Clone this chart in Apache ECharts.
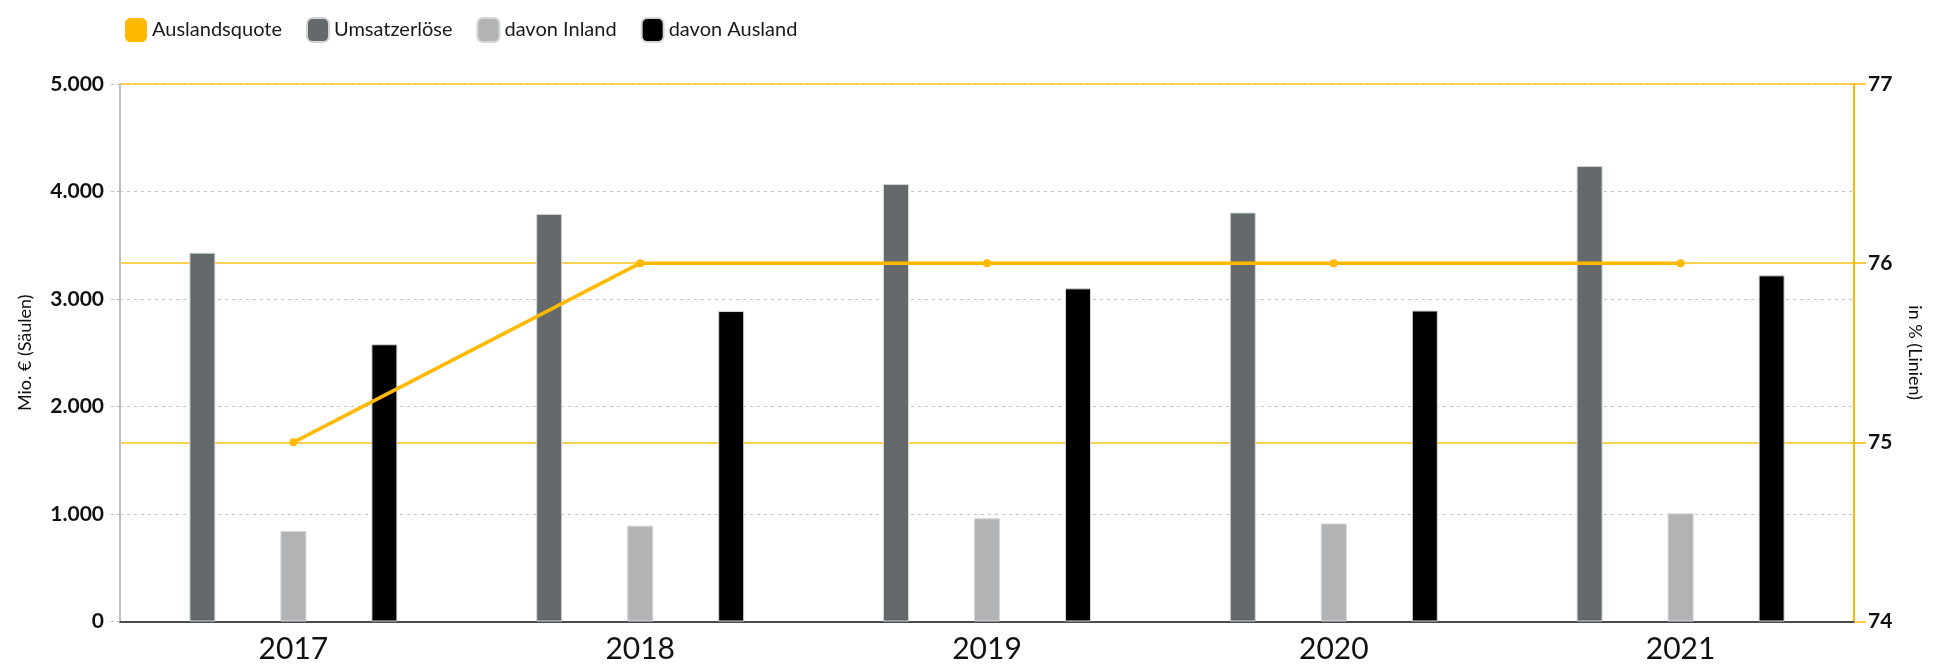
<!DOCTYPE html>
<html>
<head>
<meta charset="utf-8">
<script src="https://cdn.jsdelivr.net/npm/echarts@6/dist/echarts.min.js"></script>
<style>html,body{margin:0;padding:0;background:#fff}#c{width:1943px;height:669px}</style>
</head>
<body>
<div id="c"></div>
<script>
const categories = ['2017', '2018', '2019', '2020', '2021'];
const umsatzerloese = [3431, 3791, 4070, 3805, 4237];
const davonInland = [842, 891, 960, 912, 1006];
const davonAusland = [2579, 2888, 3099, 2893, 3220];
const auslandsquote = [75, 76, 76, 76, 76];
const leftTicks = [0, 1000, 2000, 3000, 4000, 5000];
const rightTicks = [74, 75, 76, 77];

function fmtDe(v) {
  return String(v).replace(/\B(?=(\d{3})+(?!\d))/g, '.');
}

const FONT = 'Lato';
const chart = echarts.init(document.getElementById('c'));
const barBorder = { borderColor: '#d4d6d8', borderWidth: 1 };
chart.setOption({
  animation: false,
  textStyle: { fontFamily: FONT },
  legend: {
    left: 120, top: 12,
    itemWidth: 22, itemHeight: 24, itemGap: 24,
    icon: 'roundRect',
    textStyle: { fontSize: 20, color: '#1a1a1a', fontFamily: FONT },
    data: [
      { name: 'Auslandsquote', itemStyle: { color: '#FFB900' } },
      { name: 'Umsatzerlöse' },
      { name: 'davon Inland' },
      { name: 'davon Ausland' }
    ]
  },
  grid: { left: 120, right: 89, top: 84, bottom: 47.5, containLabel: false },
  xAxis: {
    type: 'category',
    data: categories,
    axisLine: { lineStyle: { color: '#464c50', width: 2 } },
    axisTick: { show: false },
    axisLabel: { fontSize: 30, color: '#111', margin: 13, fontFamily: FONT }
  },
  yAxis: [
    {
      type: 'value', min: leftTicks[0], max: leftTicks[leftTicks.length - 1], interval: 1000,
      name: 'Mio. € (Säulen)', nameLocation: 'middle', nameGap: 86, nameRotate: 90,
      nameTextStyle: { fontSize: 18, color: '#111', fontFamily: FONT },
      axisLine: { show: true, lineStyle: { color: '#bdbfc1', width: 2 } },
      axisTick: { show: true, length: 10, lineStyle: { color: '#bbb', type: [3, 3] } },
      axisLabel: { fontSize: 21, fontWeight: 'bold', color: '#111', margin: 16, fontFamily: FONT, formatter: fmtDe },
      splitLine: { show: true, lineStyle: { color: '#c4c4c4', type: [3, 4], width: 1 } }
    },
    {
      type: 'value', min: rightTicks[0], max: rightTicks[rightTicks.length - 1], interval: 1,
      name: 'in % (Linien)', nameLocation: 'middle', nameGap: 52, nameRotate: -90,
      nameTextStyle: { fontSize: 18, color: '#111', fontFamily: FONT },
      axisLine: { show: true, lineStyle: { color: '#FFB900', width: 2 } },
      axisTick: { show: true, length: 12, lineStyle: { color: '#FFB900', width: 1.5 } },
      axisLabel: { fontSize: 21, fontWeight: 'bold', color: '#111', margin: 14, fontFamily: FONT },
      splitLine: { show: true, lineStyle: { color: '#FFC21A', width: 1.5 } }
    }
  ],
  series: [
    {
      name: 'Auslandsquote', type: 'line', yAxisIndex: 1, data: auslandsquote, z: 5,
      symbol: 'circle', symbolSize: 8,
      lineStyle: { color: '#FFB900', width: 3.5 },
      itemStyle: { color: '#FFB900' }
    },
    {
      name: 'Umsatzerlöse', type: 'bar', data: umsatzerloese, barWidth: 26, barGap: '250%',
      itemStyle: Object.assign({ color: '#646a6c' }, barBorder)
    },
    {
      name: 'davon Inland', type: 'bar', data: davonInland, barWidth: 26, barGap: '250%',
      itemStyle: Object.assign({ color: '#b1b3b5' }, barBorder)
    },
    {
      name: 'davon Ausland', type: 'bar', data: davonAusland, barWidth: 26, barGap: '250%',
      itemStyle: Object.assign({ color: '#000000' }, barBorder)
    }
  ]
});
</script>
</body>
</html>
